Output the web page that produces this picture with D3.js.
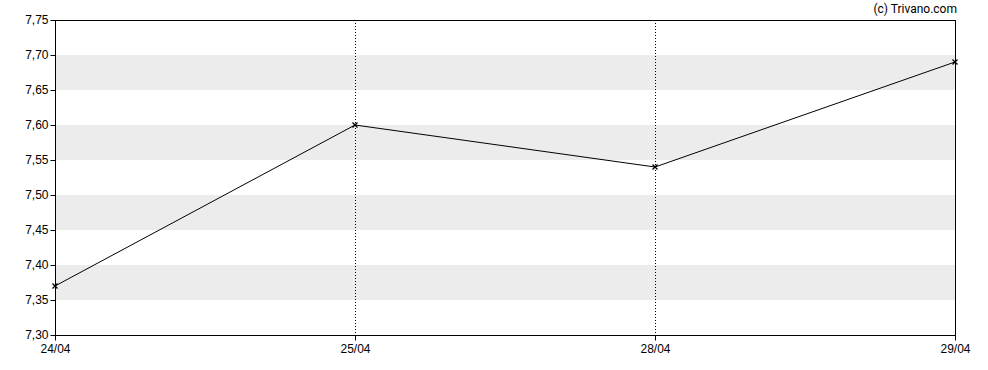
<!DOCTYPE html>
<html>
<head>
<meta charset="utf-8">
<script src="https://cdn.jsdelivr.net/npm/d3@7"></script>
<style>
  body { margin: 0; background: #fff; }
  svg { display: block; }
  .tick text { font-family: "Liberation Sans", Arial, sans-serif; font-size: 12px; fill: #000; }
</style>
</head>
<body>
<svg id="chart" width="988" height="370"></svg>
<script>
const dates = ['24/04', '25/04', '28/04', '29/04']
const prices = [7.37, 7.60, 7.54, 7.69]
const yTicks = [7.30, 7.35, 7.40, 7.45, 7.50, 7.55, 7.60, 7.65, 7.70, 7.75]
const bands = [[7.35, 7.40], [7.45, 7.50], [7.55, 7.60], [7.65, 7.70]]

const margin = { top: 20, right: 33, bottom: 35, left: 55 }
const W = 988, H = 370
const svg = d3.select('#chart')

const x = d3.scalePoint().domain(dates).range([margin.left, W - margin.right])
const y = d3.scaleLinear().domain([7.30, 7.75]).range([H - margin.bottom, margin.top])
const fmt = v => d3.format('.2f')(v).replace('.', ',')

// grey bands
svg.append('g').selectAll('rect').data(bands).join('rect')
  .attr('x', margin.left).attr('width', W - margin.right - margin.left)
  .attr('y', d => y(d[1])).attr('height', d => y(d[0]) - y(d[1]))
  .attr('fill', '#ececec')

// dotted verticals for inner dates
svg.append('g').selectAll('line').data(dates.slice(1, -1)).join('line')
  .attr('x1', d => Math.round(x(d)) + 0.5).attr('x2', d => Math.round(x(d)) + 0.5)
  .attr('y1', margin.top).attr('y2', H - margin.bottom)
  .attr('stroke', '#000').attr('stroke-dasharray', '1,2')

// frame
svg.append('rect')
  .attr('x', margin.left + 0.5).attr('y', margin.top + 0.5)
  .attr('width', W - margin.right - margin.left).attr('height', H - margin.bottom - margin.top)
  .attr('fill', 'none').attr('stroke', '#000')

const yAxis = svg.append('g').attr('transform', `translate(${margin.left + 0.5},0)`)
  .call(d3.axisLeft(y).tickValues(yTicks).tickFormat(fmt).tickSize(5).tickPadding(2))
yAxis.select('.domain').remove()

const xAxis = svg.append('g').attr('transform', `translate(0,${H - margin.bottom + 0.5})`)
  .call(d3.axisBottom(x).tickSize(5).tickPadding(4))
xAxis.select('.domain').remove()

// price line
const line = d3.line().x((d, i) => x(dates[i])).y(d => y(d))
svg.append('path').datum(prices)
  .attr('d', line).attr('fill', 'none').attr('stroke', '#000').attr('stroke-width', 1)

// x markers
const mk = svg.append('g').selectAll('g').data(prices).join('g')
  .attr('transform', (d, i) => `translate(${x(dates[i])},${y(d)})`)
mk.append('path').attr('d', 'M-2.5,-2.5L2.5,2.5M-2.5,2.5L2.5,-2.5')
  .attr('stroke', '#000').attr('stroke-width', 1.3)

svg.append('text')
  .attr('x', 957).attr('y', 13)
  .attr('text-anchor', 'end')
  .attr('font-family', 'Roboto, sans-serif').attr('font-size', 12)
  .text('(c) Trivano.com')
</script>
</body>
</html>
